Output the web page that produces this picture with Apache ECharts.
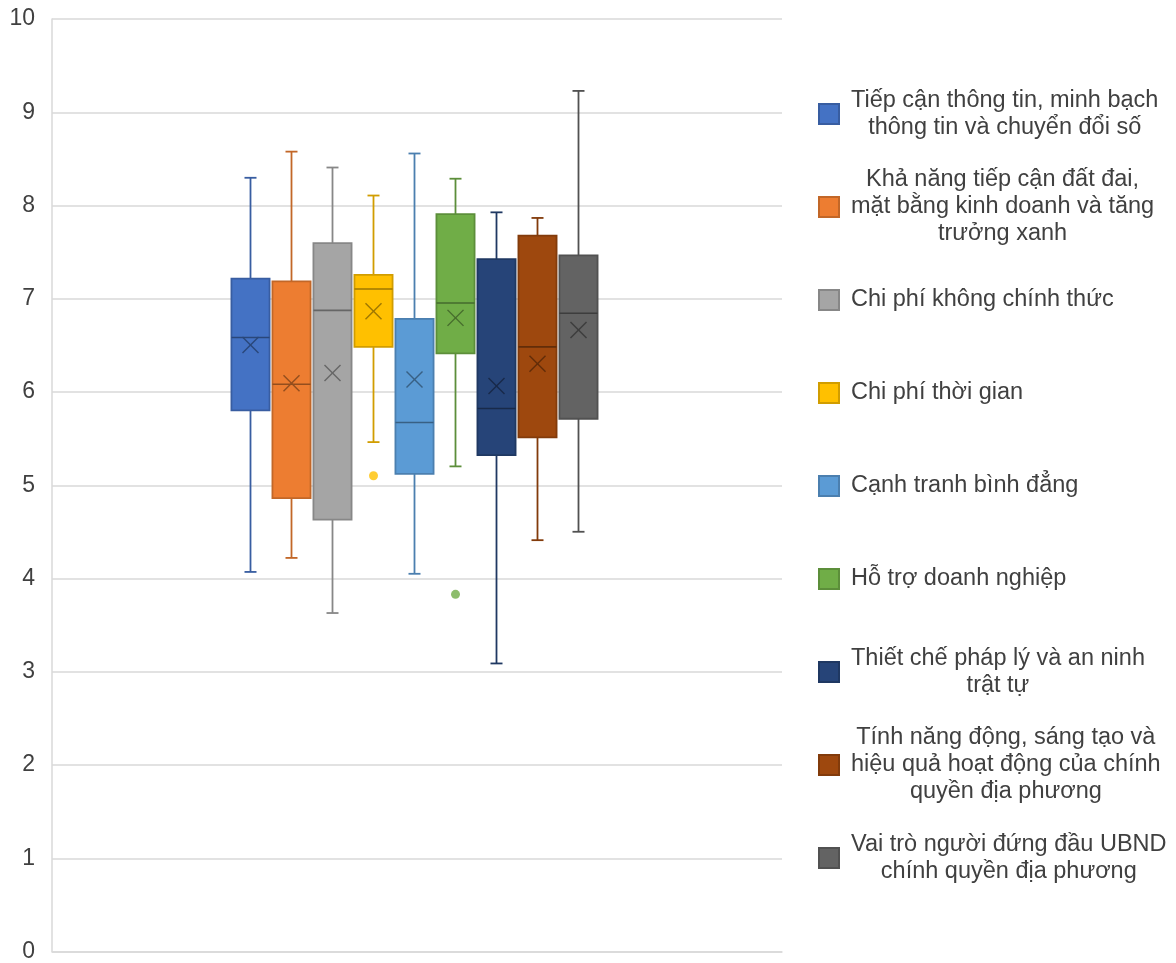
<!DOCTYPE html>
<html><head><meta charset="utf-8">
<script src="https://cdn.jsdelivr.net/npm/echarts@6.0.0/dist/echarts.min.js"></script>
<style>html,body{margin:0;padding:0;background:#fff}#c{width:1176px;height:963px}</style>
</head><body><div id="c"></div>
<script>
// ---- data ----
const factors = [
  'Tiếp cận thông tin, minh bạch\nthông tin và chuyển đổi số',
  'Khả năng tiếp cận đất đai,\nmặt bằng kinh doanh và tăng\ntrưởng xanh',
  'Chi phí không chính thức',
  'Chi phí thời gian',
  'Cạnh tranh bình đẳng',
  'Hỗ trợ doanh nghiệp',
  'Thiết chế pháp lý và an ninh\ntrật tự',
  'Tính năng động, sáng tạo và\nhiệu quả hoạt động của chính\nquyền địa phương',
  'Vai trò người đứng đầu UBND\nchính quyền địa phương'
];
const minValues    = [4.08, 4.23, 3.64, 5.47, 4.06, 5.21, 3.10, 4.42, 4.51];
const q1Values     = [5.81, 4.87, 4.64, 6.49, 5.13, 6.42, 5.33, 5.52, 5.72];
const medianValues = [6.59, 6.09, 6.88, 7.11, 5.68, 6.96, 5.83, 6.49, 6.85];
const q3Values     = [7.22, 7.19, 7.60, 7.26, 6.79, 7.91, 7.43, 7.68, 7.47];
const maxValues    = [8.30, 8.58, 8.41, 8.11, 8.56, 8.29, 7.93, 7.87, 9.23];
const meanValues   = [6.51, 6.10, 6.21, 6.87, 6.14, 6.80, 6.07, 6.31, 6.67];
const outlierFactorIndex = [3, 5];
const outlierValues      = [5.11, 3.84];
const yMin = 0, yMax = 10, yStep = 1;

// ---- style ----
const fills = ['#4472C4','#ED7D31','#A5A5A5','#FFC000','#5B9BD5','#70AD47','#264478','#9E480E','#636363'];
const FONT = '"Liberation Sans", Arial, sans-serif';
const TEXT = '#404040';
const GRIDC = '#d9d9d9';
function shade(hex, f) {
  const n = parseInt(hex.slice(1), 16);
  const r = Math.round(((n >> 16) & 255) * f), g = Math.round(((n >> 8) & 255) * f), b = Math.round((n & 255) * f);
  return 'rgb(' + r + ',' + g + ',' + b + ')';
}

function makeRenderer(k) {
  return function (params, api) {
    const i = api.value(0);
    const c = v => api.coord([i, v]);
    const pMin = c(api.value(1)), pQ1 = c(api.value(2)), pMed = c(api.value(3)),
          pQ3 = c(api.value(4)), pMax = c(api.value(5)), pMean = c(api.value(6));
    const x = pMed[0];
    const bw = api.size([1, 0])[0] * 0.93;
    const half = bw / 2, cap = 6, m = 8;
    const border = shade(fills[k], 0.82);
    const dark = shade(fills[k], 0.62);
    const ls = { stroke: border, lineWidth: 1.8 };
    return { type: 'group', children: [
      { type: 'line', shape: { x1: x, y1: pMax[1], x2: x, y2: pQ3[1] }, style: ls },
      { type: 'line', shape: { x1: x, y1: pQ1[1], x2: x, y2: pMin[1] }, style: ls },
      { type: 'line', shape: { x1: x - cap, y1: pMax[1], x2: x + cap, y2: pMax[1] }, style: ls },
      { type: 'line', shape: { x1: x - cap, y1: pMin[1], x2: x + cap, y2: pMin[1] }, style: ls },
      { type: 'rect', shape: { x: x - half, y: pQ3[1], width: bw, height: pQ1[1] - pQ3[1] },
        style: { fill: fills[k], stroke: border, lineWidth: 1.8 } },
      { type: 'line', shape: { x1: x - half, y1: pMed[1], x2: x + half, y2: pMed[1] }, style: { stroke: dark, lineWidth: 1.6 } },
      { type: 'line', shape: { x1: pMean[0] - m, y1: pMean[1] - m, x2: pMean[0] + m, y2: pMean[1] + m }, style: { stroke: dark, lineWidth: 1.4 } },
      { type: 'line', shape: { x1: pMean[0] - m, y1: pMean[1] + m, x2: pMean[0] + m, y2: pMean[1] - m }, style: { stroke: dark, lineWidth: 1.4 } }
    ]};
  };
}

const series = factors.map((name, k) => ({
  name: name,
  type: 'custom',
  xAxisIndex: 1, yAxisIndex: 1,
  renderItem: makeRenderer(k),
  itemStyle: { color: fills[k], borderColor: shade(fills[k], 0.82), borderWidth: 1 },
  encode: { x: 0, y: [1, 2, 3, 4, 5, 6] },
  data: [[k, minValues[k], q1Values[k], medianValues[k], q3Values[k], maxValues[k], meanValues[k]]],
  silent: true
}));
outlierFactorIndex.forEach((k, j) => {
  series.push({
    name: factors[k], type: 'scatter', xAxisIndex: 1, yAxisIndex: 1,
    symbol: 'circle', symbolSize: 9, itemStyle: { color: fills[k] },
    data: [[k, outlierValues[j]]], silent: true
  });
});

const LINE_H = 27;
const legends = factors.map((name, k) => {
  const n = name.split('\n').length;
  const h = Math.max(20, n * LINE_H);
  return {
    data: [name], orient: 'vertical', left: 818, top: 114 + 93 * k - h / 2, padding: 0,
    icon: 'rect', itemWidth: 20, itemHeight: 20, selectedMode: false,
    formatter: nm => nm.split('\n').map(s => '{c|' + s + '}').join('\n'),
    textStyle: {
      fontFamily: FONT, fontSize: 23.5, color: TEXT, lineHeight: LINE_H, padding: [0, 0, 0, 7],
      rich: { c: { align: 'center', fontFamily: FONT, fontSize: 23.5, color: TEXT, lineHeight: LINE_H } }
    }
  };
});

const chart = echarts.init(document.getElementById('c'), null, { renderer: 'canvas' });
chart.setOption({
  animation: false,
  backgroundColor: '#fff',
  grid: [
    { left: 52, right: 394, top: 19, bottom: 10, containLabel: false },
    { left: 230, width: 369, top: 19, bottom: 10, containLabel: false }
  ],
  xAxis: [
    { type: 'category', gridIndex: 0, data: [''], axisLine: { show: true, lineStyle: { color: GRIDC, width: 1.5 } },
      axisTick: { show: false }, axisLabel: { show: false }, splitLine: { show: false } },
    { type: 'category', gridIndex: 1, data: factors, show: false }
  ],
  yAxis: [
    { type: 'value', gridIndex: 0, min: yMin, max: yMax, interval: yStep,
      axisLine: { show: true, lineStyle: { color: GRIDC, width: 1.5 } }, axisTick: { show: false },
      axisLabel: { fontFamily: FONT, fontSize: 23, color: TEXT, margin: 17 },
      splitLine: { show: true, lineStyle: { color: GRIDC, width: 1.5 } } },
    { type: 'value', gridIndex: 1, min: yMin, max: yMax, interval: yStep, show: false, splitLine: { show: false } }
  ],
  legend: legends,
  series: series
});
</script></body></html>
